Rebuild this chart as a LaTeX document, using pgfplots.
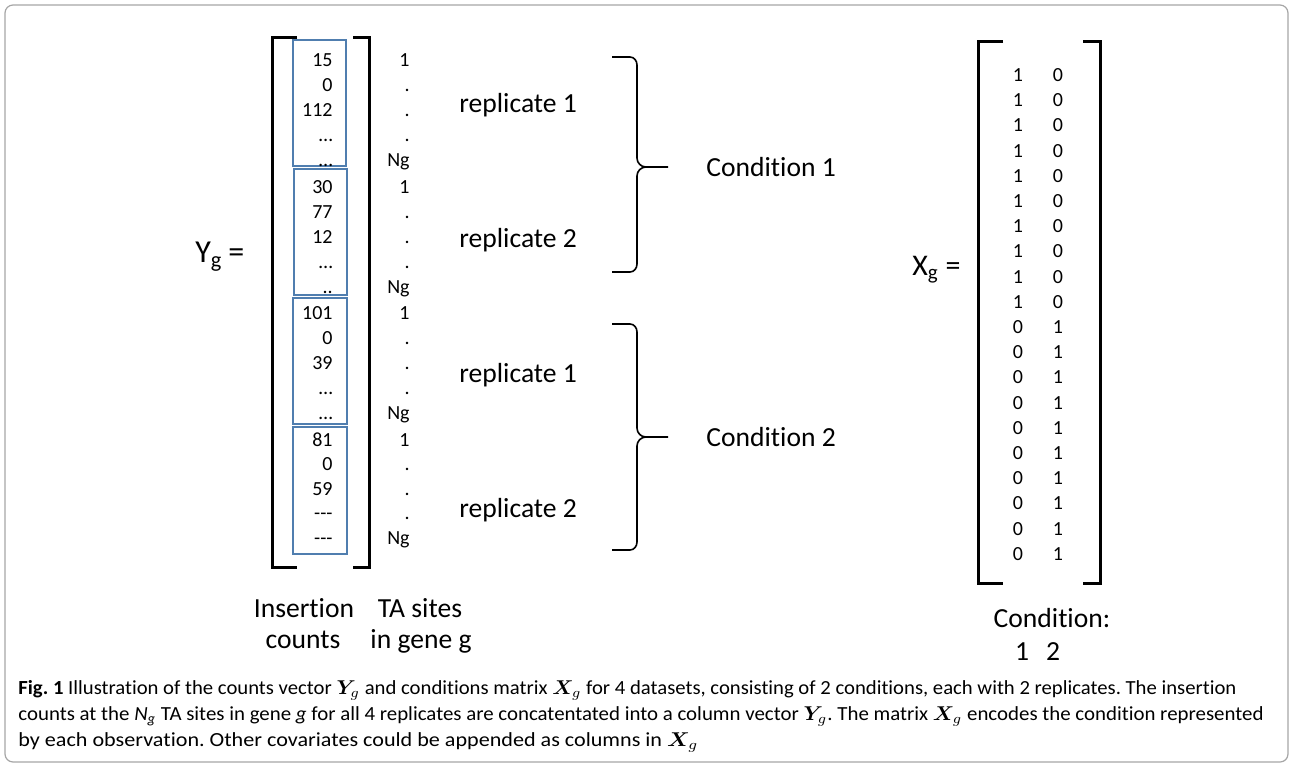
\documentclass[border=0pt]{standalone}
\usepackage{pgfplots}
\pgfplotsset{compat=1.18}
\usepackage{pgfplotstable}
\usepackage{graphicx}
\usepackage{bm}
\usepackage{fontspec}
\setmainfont{Carlito}[Ligatures=CommonOff]
\frenchspacing
\definecolor{boxblue}{RGB}{80,126,175}
\newcommand\tri{-{}-{}-}
\newcommand\mainf{\fontsize{13.8}{16}\selectfont}
\newcommand\numf{\fontsize{10}{12}\selectfont}
\newcommand\capf{\fontsize{10}{12}\selectfont}

\pgfplotstableread{
x y label
333 66 15
333 91 0
333 116 112
333 141 …
333 166 …
333 193 30
333 218 77
333 243 12
333 268 …
333 293 ..
333 319 101
333 344 0
333 369 39
333 394 …
333 419 …
333 446 81
333 470.5 0
333 495 59
333 519.5 \tri
333 544 \tri
}\Ycounts

\pgfplotstableread{
x y label
410 66 1
410 91 .
410 116 .
410 141 .
410 166 Ng
410 193 1
410 218 .
410 243 .
410 268 .
410 293 Ng
410 319 1
410 344 .
410 369 .
410 394 .
410 419 Ng
410 446 1
410 470.5 .
410 495 .
410 519.5 .
410 544 Ng
}\TAsites

\pgfplotstableread{
x y label
1018 81.5 1
1018 106.7 1
1018 131.9 1
1018 157.1 1
1018 182.3 1
1018 207.5 1
1018 232.7 1
1018 257.9 1
1018 283.1 1
1018 308.3 1
1018 333.5 0
1018 358.7 0
1018 383.9 0
1018 409.1 0
1018 434.3 0
1018 459.5 0
1018 484.7 0
1018 509.9 0
1018 535.1 0
1018 560.3 0
1058 81.5 0
1058 106.7 0
1058 131.9 0
1058 157.1 0
1058 182.3 0
1058 207.5 0
1058 232.7 0
1058 257.9 0
1058 283.1 0
1058 308.3 0
1058 333.5 1
1058 358.7 1
1058 383.9 1
1058 409.1 1
1058 434.3 1
1058 459.5 1
1058 484.7 1
1058 509.9 1
1058 535.1 1
1058 560.3 1
}\Xmat

\begin{document}
\begin{tikzpicture}
\begin{axis}[
  width=646pt, height=383.5pt, scale only axis,
  xmin=0, xmax=1292, ymin=0, ymax=767, y dir=reverse,
  hide axis, clip=false,
]
\path (0,0) rectangle (1292,767);
% outer frame
\draw[gray!70, line width=0.6pt, rounded corners=4pt] (5,5) rectangle (1288,762);

% Y vector bracket
\draw[line width=1.5pt] (297,37) -- (272,37) -- (272,567) -- (297,567);
\draw[line width=1.5pt] (353,37) -- (369,37) -- (369,567) -- (353,567);
% blue boxes
\draw[boxblue, line width=0.9pt] (293,40) rectangle (346,166);
\draw[boxblue, line width=0.9pt] (294,169) rectangle (347,295);
\draw[boxblue, line width=0.9pt] (293,298) rectangle (347,424);
\draw[boxblue, line width=0.9pt] (293,427) rectangle (347,554);

\addplot[draw=none, mark=none, nodes near coords, point meta=explicit symbolic,
  nodes near coords style={font=\numf, anchor=base east, inner sep=0pt}]
  table[x=x, y=y, meta=label] {\Ycounts};
\addplot[draw=none, mark=none, nodes near coords, point meta=explicit symbolic,
  nodes near coords style={font=\numf, anchor=base east, inner sep=0pt}]
  table[x=x, y=y, meta=label] {\TAsites};

% X matrix bracket
\draw[line width=1.5pt] (1003,41) -- (978,41) -- (978,583) -- (1003,583);
\draw[line width=1.5pt] (1083,41) -- (1100,41) -- (1100,583) -- (1083,583);
\addplot[draw=none, mark=none, nodes near coords, point meta=explicit symbolic,
  nodes near coords style={font=\numf, anchor=base, inner sep=0pt}]
  table[x=x, y=y, meta=label] {\Xmat};

% braces
\draw[line width=0.8pt] (612,57) -- (630,57) to[out=0,in=90] (637,65) -- (637,158) to[out=-90,in=180] (646,167) -- (668,167);
\draw[line width=0.8pt] (612,272) -- (630,272) to[out=0,in=-90] (637,264) -- (637,176) to[out=90,in=180] (646,167);
\draw[line width=0.8pt] (612,324) -- (630,324) to[out=0,in=90] (637,332) -- (637,428) to[out=-90,in=180] (646,437) -- (668,437);
\draw[line width=0.8pt] (612,550) -- (630,550) to[out=0,in=-90] (637,542) -- (637,446) to[out=90,in=180] (646,437);

% labels
\node[font=\mainf, anchor=base west, inner sep=0pt] at (459,112) {replicate 1};
\node[font=\mainf, anchor=base west, inner sep=0pt] at (459,247) {replicate 2};
\node[font=\mainf, anchor=base west, inner sep=0pt] at (459,382) {replicate 1};
\node[font=\mainf, anchor=base west, inner sep=0pt] at (459,517) {replicate 2};
\node[font=\mainf, anchor=base west, inner sep=0pt] at (706,176) {Condition 1};
\node[font=\mainf, anchor=base west, inner sep=0pt] at (706,446) {Condition 2};
\node[font=\fontsize{16}{18}\selectfont, anchor=base west, inner sep=0pt] at (195,262) {Y\textsubscript{g}\hspace{0.18em}=};
\node[font=\fontsize{15}{17}\selectfont, anchor=base west, inner sep=0pt] at (912,275) {X\textsubscript{g} =};
\node[font=\mainf, anchor=base, inner sep=0pt] at (304,617) {Insertion};
\node[font=\mainf, anchor=base, inner sep=0pt] at (303,648) {counts};
\node[font=\mainf, anchor=base, inner sep=0pt] at (420,617) {TA sites};
\node[font=\mainf, anchor=base, inner sep=0pt] at (421,648) {in gene g};
\node[font=\mainf, anchor=base, inner sep=0pt] at (1052,627) {Condition:};
\node[font=\mainf, anchor=base, inner sep=0pt] at (1022,660) {1};
\node[font=\mainf, anchor=base, inner sep=0pt] at (1053,660) {2};

% caption
\node[font=\capf, anchor=base west, inner sep=0pt] at (18,694) {\resizebox{609pt}{\height}{\textbf{Fig. 1} Illustration of the counts vector $\bm{Y}_g$ and conditions matrix $\bm{X}_g$ for 4 datasets, consisting of 2 conditions, each with 2 replicates. The insertion}};
\node[font=\capf, anchor=base west, inner sep=0pt] at (18,720) {\resizebox{622.5pt}{\height}{counts at the \textit{N}\textsubscript{\textit{g}} TA sites in gene \textit{g} for all 4 replicates are concatentated into a column vector $\bm{Y}_g$. The matrix $\bm{X}_g$ encodes the condition represented}};
\node[font=\capf, anchor=base west, inner sep=0pt] at (18,746) {\resizebox{340pt}{\height}{by each observation. Other covariates could be appended as columns in $\bm{X}_g$}};
\end{axis}
\end{tikzpicture}
\end{document}
